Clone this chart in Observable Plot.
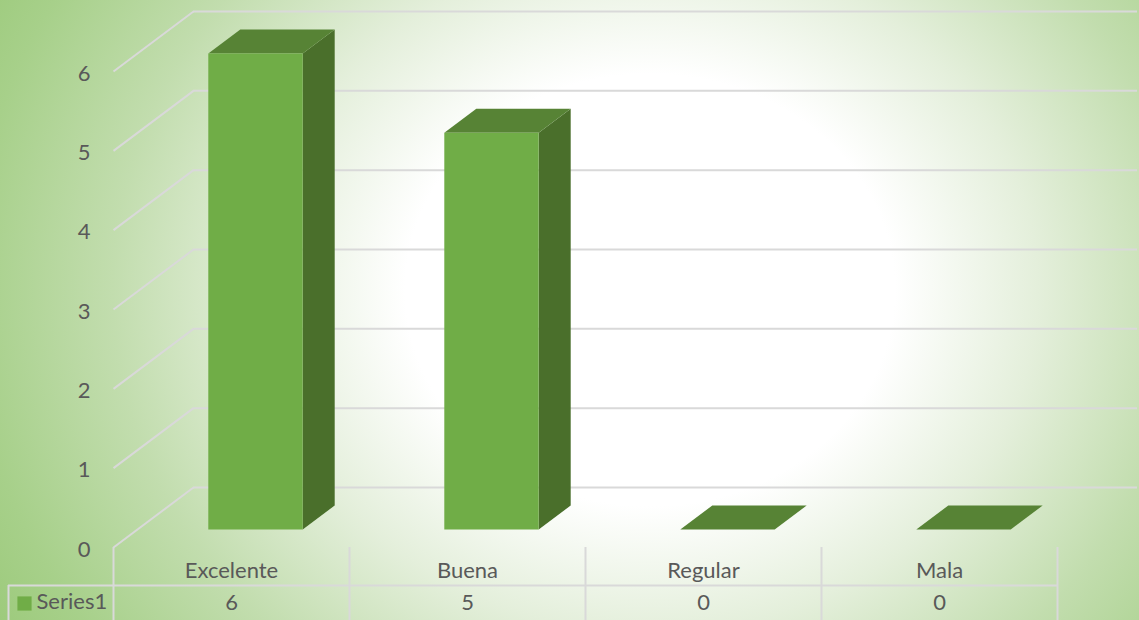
<!DOCTYPE html>
<html>
<head>
<meta charset="utf-8">
<script src="https://cdn.jsdelivr.net/npm/d3@7"></script>
<script src="https://cdn.jsdelivr.net/npm/@observablehq/plot@0.6"></script>
<style>
  html, body { margin: 0; padding: 0; }
  #chart { width: 1139px; height: 620px; }
</style>
</head>
<body>
<div id="chart"></div>
<script>
// ---- data ----
const categories = ["Excelente", "Buena", "Regular", "Mala"];
const values = [6, 5, 0, 0];
const yTicks = [0, 1, 2, 3, 4, 5, 6];
const seriesName = "Series1";

// ---- 3D projection helpers (depth offsets expressed in scale units) ----
const DX = 80 / 236;    // depth shift along x per unit depth (category units)
const DY = 60 / 79.33;  // depth shift along y per unit depth (value units)
const HALF = 0.2;       // half bar width in category units
const D0 = 0.3, D1 = 0.7;
const P = (u, v, d, id) => ({x: u + DX * d, y: v + DY * d, id});

const frontFaces = [], sideFaces = [], topFaces = [];
categories.forEach((c, i) => {
  const cx = i + 0.5, v = values[i];
  frontFaces.push(P(cx - HALF, 0, D0, i), P(cx + HALF, 0, D0, i), P(cx + HALF, v, D0, i), P(cx - HALF, v, D0, i));
  sideFaces.push(P(cx + HALF, 0, D0, i), P(cx + HALF, 0, D1, i), P(cx + HALF, v, D1, i), P(cx + HALF, v, D0, i));
  topFaces.push(P(cx - HALF, v, D0, i), P(cx + HALF, v, D0, i), P(cx + HALF, v, D1, i), P(cx - HALF, v, D1, i));
});

const grid = "#d9d9d9";
const textColor = "#595959";

const chart = Plot.plot({
  width: 1139,
  height: 620,
  marginLeft: 8,
  marginRight: 81,
  marginTop: 0,
  marginBottom: 0,
  x: {type: "linear", domain: [0, 4], range: [113, 1057], axis: null},
  y: {type: "linear", domain: [0, 6], range: [547, 71], axis: null},
  style: {
    background: "radial-gradient(ellipse 680px 600px at 650px 290px, #ffffff 0%, #ffffff 36%, #e4efdb 57%, #c2ddae 79%, #a7d08a 100%, #90c36b 124%)",
    fontFamily: "Lato, 'Open Sans', sans-serif",
    fontSize: "22px",
    color: textColor
  },
  marks: [
    // back wall gridlines
    Plot.ruleY(yTicks, {y: d => d + DY, x1: DX, x2: 4 + DX, stroke: grid, strokeWidth: 2}),
    // side wall gridlines
    Plot.link(yTicks, {x1: 0, y1: d => d, x2: DX, y2: d => d + DY, stroke: grid, strokeWidth: 2}),
    // y tick labels
    Plot.text(yTicks, {x: 0, y: d => d, text: d => String(d), textAnchor: "end", dx: -23, dy: 2, fill: textColor}),
    // bars
    Plot.line(sideFaces, {x: "x", y: "y", z: "id", fill: "#4a6f2b", stroke: "none", curve: "linear"}),
    Plot.line(topFaces, {x: "x", y: "y", z: "id", fill: "#578335", stroke: "none", curve: "linear"}),
    Plot.line(frontFaces, {x: "x", y: "y", z: "id", fill: "#70ad47", stroke: "none", curve: "linear"}),
    // data table
    Plot.ruleX([0, 1, 2, 3, 4], {insetTop: 547, stroke: grid, strokeWidth: 2}),
    Plot.ruleX([0], {insetTop: 585, dx: -105, stroke: grid, strokeWidth: 2}),
    Plot.ruleY([0], {dy: 38, stroke: grid, strokeWidth: 2}),
    Plot.text(categories, {x: (d, i) => i + 0.5, frameAnchor: "bottom", dy: -43, text: d => d, fill: textColor}),
    Plot.text(values, {x: (d, i) => i + 0.5, frameAnchor: "bottom", dy: -11, text: d => String(d), fill: textColor}),
    Plot.dot([seriesName], {frameAnchor: "bottom-left", dx: 16, dy: -17, symbol: "square", r: 8, fill: "#70ad47", stroke: "none"}),
    Plot.text([seriesName], {frameAnchor: "bottom-left", dx: 28, dy: -12, text: d => d, textAnchor: "start", fill: textColor})
  ]
});
document.getElementById("chart").append(chart);
</script>
</body>
</html>
